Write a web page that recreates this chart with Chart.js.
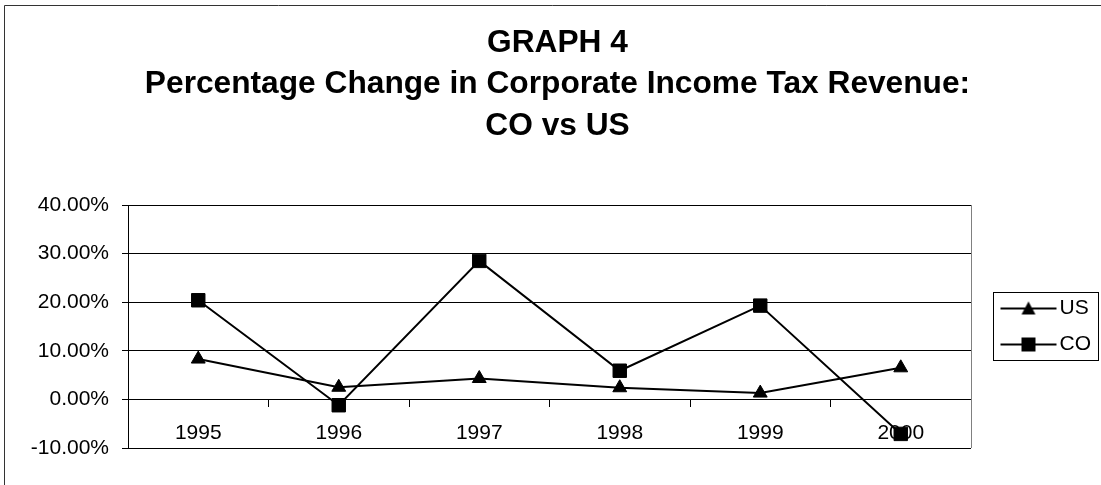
<!DOCTYPE html>
<html>
<head>
<meta charset="utf-8">
<title>Graph 4</title>
<script src="https://cdn.jsdelivr.net/npm/chart.js@4/dist/chart.umd.min.js"></script>
<style>
  body { margin: 0; background: #fff; }
  canvas { display: block; }
</style>
</head>
<body>
<canvas id="grafico" width="1101" height="485"></canvas>
<script>
// dados (em %)
const anos = ["1995", "1996", "1997", "1998", "1999", "2000"];
const valoresUS = [8.3, 2.5, 4.3, 2.4, 1.3, 6.5];
const valoresCO = [20.4, -1.2, 28.5, 5.9, 19.3, -7.1];
const tituloLinhas = [
  "GRAPH 4",
  "Percentage Change in Corporate Income Tax Revenue:",
  "CO vs US",
];

const fonte = "'Liberation Sans', Arial, sans-serif";
Chart.defaults.color = "#000";
Chart.defaults.font.family = fonte;

// ícone da legenda: linha + marcador
function iconeLegenda(tipo) {
  const c = document.createElement("canvas");
  c.width = 80;
  c.height = 16;
  const g = c.getContext("2d");
  g.strokeStyle = "#000";
  g.lineWidth = 2;
  g.beginPath();
  g.moveTo(23, 8);
  g.lineTo(79, 8);
  g.stroke();
  g.fillStyle = "#000";
  if (tipo === "triangle") {
    g.beginPath();
    g.moveTo(51, 1);
    g.lineTo(58, 14);
    g.lineTo(44, 14);
    g.closePath();
    g.fill();
  } else {
    g.fillRect(44, 1, 14, 14);
  }
  return c;
}
const icones = [iconeLegenda("triangle"), iconeLegenda("rect")];

// bordas: moldura externa, borda direita da área e caixa da legenda
const bordas = {
  id: "bordas",
  beforeDraw(chart) {
    const { ctx } = chart;
    ctx.save();
    ctx.fillStyle = "#fff";
    ctx.fillRect(0, 0, chart.width, chart.height);
    ctx.strokeStyle = "#333";
    ctx.lineWidth = 1;
    ctx.beginPath();
    ctx.moveTo(4.5, chart.height);
    ctx.lineTo(4.5, 5.5);
    ctx.lineTo(chart.width, 5.5);
    ctx.stroke();
    ctx.restore();
  },
  beforeDatasetsDraw(chart) {
    const { ctx, chartArea } = chart;
    ctx.save();
    ctx.strokeStyle = "#808080";
    ctx.lineWidth = 1;
    ctx.beginPath();
    ctx.moveTo(Math.round(chartArea.right) + 0.5, chartArea.top);
    ctx.lineTo(Math.round(chartArea.right) + 0.5, chartArea.bottom);
    ctx.stroke();
    ctx.restore();
  },
  afterDraw(chart) {
    const hb = chart.legend.legendHitBoxes;
    if (!hb || !hb.length) return;
    const { ctx } = chart;
    const ultimo = hb[hb.length - 1];
    const x1 = Math.round(hb[0].left + 7) + 0.5;
    const y1 = Math.round(hb[0].top - 6) + 0.5;
    const x2 = chart.width - 2.5;
    const y2 = Math.round(ultimo.top + ultimo.height + 5) + 0.5;
    ctx.save();
    ctx.strokeStyle = "#000";
    ctx.lineWidth = 1;
    ctx.strokeRect(x1, y1, x2 - x1, y2 - y1);
    ctx.restore();
  },
};

const grafico = new Chart(document.getElementById("grafico"), {
  type: "line",
  data: {
    labels: anos,
    datasets: [
      {
        label: "US",
        data: valoresUS,
        borderColor: "#000",
        backgroundColor: "#000",
        borderWidth: 2,
        pointStyle: "triangle",
        pointRadius: 8,
        pointBorderWidth: 1,
        pointBackgroundColor: "#000",
        tension: 0,
      },
      {
        label: "CO",
        data: valoresCO,
        borderColor: "#000",
        backgroundColor: "#000",
        borderWidth: 2,
        pointStyle: "rect",
        pointRadius: 9.5,
        pointBorderWidth: 1,
        pointBackgroundColor: "#000",
        tension: 0,
      },
    ],
  },
  options: {
    responsive: false,
    animation: false,
    layout: { padding: { left: 14, right: 0, top: 0, bottom: 37 } },
    scales: {
      x: {
        type: "category",
        position: { y: 0 },
        offset: true,
        grid: {
          offset: true,
          drawOnChartArea: false,
          drawTicks: true,
          tickLength: 7,
          color: "#000",
        },
        border: { display: true, color: "#000" },
        ticks: { padding: 14, font: { size: 21 }, maxRotation: 0 },
      },
      y: {
        min: -10,
        max: 40,
        ticks: {
          stepSize: 10,
          padding: 13,
          font: { size: 21 },
          callback: (v) => v.toFixed(2) + "%",
        },
        grid: { color: "#000", tickLength: 6 },
        border: { display: true, color: "#000" },
        afterFit(escala) {
          escala.width = 114;
        },
      },
    },
    plugins: {
      title: {
        display: true,
        text: tituloLinhas,
        font: { size: 31.7, weight: "bold", lineHeight: "41.5px" },
        padding: { top: 22.25, bottom: 58.25 },
        color: "#000",
      },
      legend: {
        position: "right",
        fullSize: false,
        labels: {
          usePointStyle: true,
          pointStyleWidth: 63,
          padding: 15,
          font: { size: 21 },
          color: "#000",
          generateLabels: (chart) =>
            Chart.defaults.plugins.legend.labels
              .generateLabels(chart)
              .map((l, i) => ({ ...l, pointStyle: icones[i] })),
        },
      },
      tooltip: { enabled: false },
    },
  },
  plugins: [bordas],
});
</script>
</body>
</html>
